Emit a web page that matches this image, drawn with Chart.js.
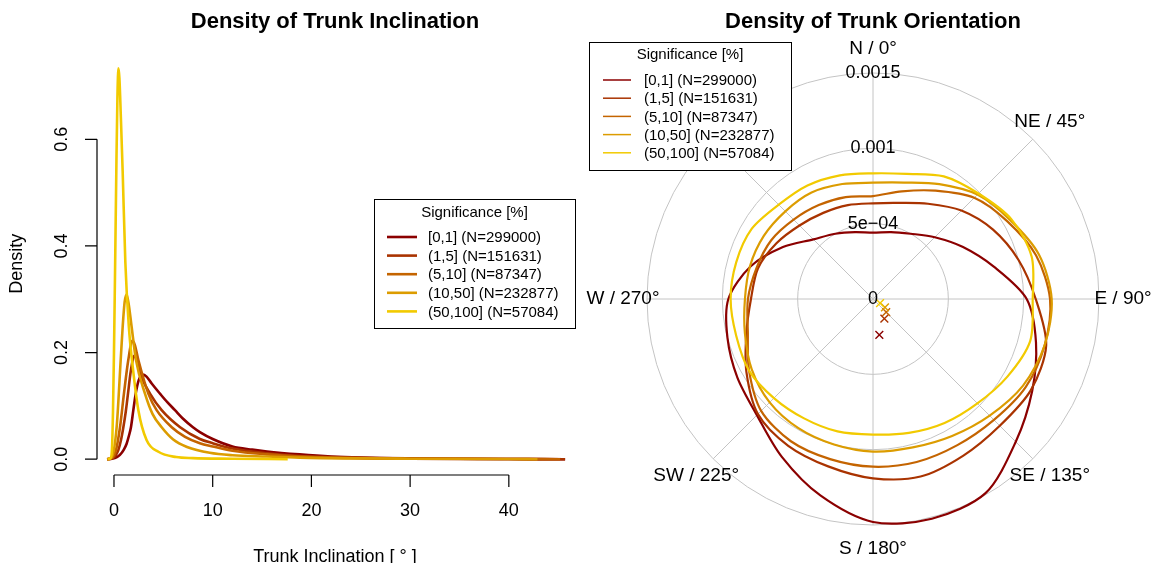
<!DOCTYPE html>
<html>
<head>
<meta charset="utf-8">
<script src="https://cdn.jsdelivr.net/npm/chart.js@4/dist/chart.umd.min.js"></script>
<style>
html,body{margin:0;padding:0;background:#fff;}
#wrap{position:relative;width:1152px;height:563px;overflow:hidden;background:#fff;}
canvas{position:absolute;top:0;}
#c1{left:0;}
#c2{left:576px;}
</style>
</head>
<body>
<div id="wrap">
<canvas id="c1" width="576" height="563"></canvas>
<canvas id="c2" width="576" height="563"></canvas>
</div>
<script>
// ---------------- data ----------------
const seriesLabels = ['[0,1] (N=299000)', '(1,5] (N=151631)', '(5,10] (N=87347)', '(10,50] (N=232877)', '(50,100] (N=57084)'];
const seriesColors = ['#8B0000', '#A93300', '#C46400', '#DC9C00', '#F2CA00'];

// Trunk inclination densities: [inclination (deg), density]
const incl_0_1 = [[-0.7,0],[-0.2,0.001],[0.3,0.004],[0.6,0.008],[1.0,0.018],[1.28,0.029],[1.5,0.043],[1.72,0.06],[1.96,0.092],[2.2,0.123],[2.5,0.148],[2.9,0.159],[3.3,0.155],[3.82,0.142],[4.66,0.123],[5.4,0.107],[6.18,0.092],[7,0.076],[8,0.06],[8.7,0.051],[10,0.038],[12,0.024],[14,0.018],[15.5,0.0145],[18.8,0.009],[22,0.005],[25,0.003],[30,0.0015],[35,0.0008],[40,0.0004],[45.7,0]];
const incl_1_5 = [[-0.7,0],[-0.13,0.002],[0.2,0.008],[0.44,0.017],[0.7,0.035],[0.95,0.06],[1.2,0.09],[1.42,0.123],[1.7,0.165],[2.06,0.194],[2.4,0.182],[2.8,0.154],[3.65,0.123],[4.83,0.092],[6.7,0.06],[8.7,0.038],[10,0.03],[12,0.02],[15.5,0.011],[18.8,0.006],[22,0.004],[25,0.0025],[30,0.0012],[40,0.0004],[45.7,0]];
const incl_5_10 = [[-0.7,0],[-0.23,0.002],[0.2,0.017],[0.61,0.06],[1.01,0.123],[1.45,0.186],[1.86,0.222],[2.1,0.215],[2.47,0.186],[3.48,0.123],[4.32,0.092],[5.85,0.06],[7.2,0.042],[8.7,0.03],[10,0.024],[12,0.016],[15.5,0.009],[18.8,0.005],[22,0.003],[25,0.002],[30,0.001],[40,0.0003],[45.2,0]];
const incl_10_50 = [[-0.7,0],[-0.23,0.004],[0.27,0.06],[0.68,0.186],[0.88,0.248],[1.08,0.295],[1.28,0.309],[1.5,0.29],[1.79,0.248],[2.23,0.186],[3.14,0.123],[3.9,0.085],[4.83,0.06],[6,0.037],[7.4,0.023],[9.7,0.012],[12,0.0075],[15.5,0.005],[18.8,0.003],[25,0.0015],[30,0.001],[40,0.0004],[42.9,0]];
const incl_50_100 = [[-0.6,0],[-0.35,0.002],[-0.2,0.02],[-0.1,0.09],[0,0.2],[0.1,0.34],[0.25,0.56],[0.35,0.68],[0.45,0.733],[0.55,0.715],[0.7,0.64],[0.88,0.54],[1.15,0.37],[1.5,0.25],[1.89,0.175],[2.47,0.092],[3.3,0.036],[4.5,0.014],[6.3,0.004],[8,0.002],[12,0.001],[17.6,0]];
const inclSeries = [incl_0_1, incl_1_5, incl_5_10, incl_10_50, incl_50_100];

const inclXTicks = [0, 10, 20, 30, 40];
const inclYTicks = [0, 0.2, 0.4, 0.6];
const inclYTickLabels = ['0.0', '0.2', '0.4', '0.6'];

// Trunk orientation densities (polar), one value every 15 degrees, clockwise from N
const orientAngles = [0,15,30,45,60,75,90,105,120,135,150,165,180,195,210,225,240,255,270,285,300,315,330,345];
const orient_0_1 = [0.00044,0.00046,0.00050,0.00058,0.00069,0.00083,0.00102,0.00112,0.00122,0.00134,0.00149,0.00151,0.00148,0.00135,0.00121,0.00109,0.00104,0.00100,0.00096,0.00084,0.00069,0.00056,0.00050,0.00046];
const orient_1_5 = [0.000635,0.00066,0.00073,0.00083,0.00092,0.00100,0.00108,0.00119,0.00121,0.00119,0.00120,0.00122,0.00119,0.00115,0.001125,0.00108,0.00097,0.00087,0.00081,0.00079,0.00074,0.00069,0.00066,0.000645];
const orient_5_10 = [0.000683,0.00074,0.00083,0.00095,0.00103,0.00112,0.001175,0.00118,0.00117,0.001135,0.00112,0.00112,0.001113,0.00110,0.00109,0.00105,0.00095,0.00086,0.00083,0.00080,0.00078,0.000745,0.00072,0.00070];
const orient_10_50 = [0.000772,0.00080,0.00088,0.00098,0.00105,0.00114,0.001186,0.00118,0.00115,0.001095,0.00105,0.00102,0.001013,0.00100,0.00099,0.00097,0.00093,0.00088,0.00085,0.000845,0.000837,0.000823,0.000816,0.00079];
const orient_50_100 = [0.000834,0.00086,0.00094,0.00099,0.00106,0.00109,0.00106,0.00108,0.00103,0.00098,0.00095,0.00092,0.00090,0.00091,0.000915,0.00093,0.00095,0.00094,0.000945,0.00094,0.00093,0.000885,0.00087,0.00085];
const orientSeries = [orient_0_1, orient_1_5, orient_5_10, orient_10_50, orient_50_100];

// mean direction markers: angle (deg) and length
const meanAngles = [170, 150, 135, 125, 120];
const meanLengths = [0.000242, 0.000151, 0.000124, 0.000097, 0.000054];

const orientStep = 5; // angular resolution of the radar categories
const orientLabels = Array.from({length: 360 / orientStep}, (_, i) => i * orientStep);
const compassAngles = [0, 45, 90, 135, 180, 225, 270, 315];
const compassLabels = ['N / 0°', 'NE / 45°', 'E / 90°', 'SE / 135°', 'S / 180°', 'SW / 225°', 'W / 270°', 'NW / 315°'];
const rTickValues = [0, 0.0005, 0.001, 0.0015];
const rTickLabels = ['0', '5e\u221204', '0.001', '0.0015'];

// ---------------- helpers ----------------
const FONT = "'Liberation Sans', Arial, Helvetica, sans-serif";
Chart.defaults.font.family = FONT;
Chart.defaults.color = '#000';

function drawLegendBox(ctx, L, chart) {
  ctx.save();
  ctx.fillStyle = '#fff';
  ctx.fillRect(L.x, L.y, L.w, L.h);
  ctx.strokeStyle = '#000';
  ctx.lineWidth = 1;
  ctx.strokeRect(L.x + 0.5, L.y + 0.5, L.w, L.h);
  ctx.fillStyle = '#000';
  ctx.font = '15px ' + FONT;
  ctx.textAlign = 'center';
  ctx.textBaseline = 'middle';
  ctx.fillText('Significance [%]', L.x + L.w / 2, L.titleY);
  ctx.textAlign = 'left';
  for (let i = 0; i < seriesLabels.length; i++) {
    const ds = chart.data.datasets[i];
    const y = L.firstY + i * L.step;
    ctx.strokeStyle = ds.borderColor;
    ctx.lineWidth = L.lw;
    ctx.beginPath();
    ctx.moveTo(L.x1, y);
    ctx.lineTo(L.x2, y);
    ctx.stroke();
    ctx.fillStyle = '#000';
    ctx.fillText(ds.label, L.tx, y + 1);
  }
  ctx.restore();
}

// ---------------- left chart ----------------
const inclAxes = {
  id: 'inclAxes',
  afterDraw(chart) {
    const ctx = chart.ctx;
    const xs = chart.scales.x, ys = chart.scales.y;
    const area = chart.chartArea;
    ctx.save();
    ctx.strokeStyle = '#000';
    ctx.lineWidth = 1.2;
    ctx.fillStyle = '#000';
    ctx.font = '18px ' + FONT;
    // x axis
    const yb = area.bottom;
    ctx.beginPath();
    ctx.moveTo(xs.getPixelForValue(inclXTicks[0]), yb);
    ctx.lineTo(xs.getPixelForValue(inclXTicks[inclXTicks.length - 1]), yb);
    inclXTicks.forEach(v => {
      const px = xs.getPixelForValue(v);
      ctx.moveTo(px, yb);
      ctx.lineTo(px, yb + 12);
    });
    ctx.stroke();
    ctx.textAlign = 'center';
    ctx.textBaseline = 'middle';
    inclXTicks.forEach(v => ctx.fillText(String(v), xs.getPixelForValue(v), yb + 36));
    ctx.fillText('Trunk Inclination [ \u00B0 ]', (area.left + area.right) / 2, yb + 82);
    // y axis
    const xl = area.left;
    ctx.beginPath();
    ctx.moveTo(xl, ys.getPixelForValue(inclYTicks[0]));
    ctx.lineTo(xl, ys.getPixelForValue(inclYTicks[inclYTicks.length - 1]));
    inclYTicks.forEach(v => {
      const py = ys.getPixelForValue(v);
      ctx.moveTo(xl, py);
      ctx.lineTo(xl - 12, py);
    });
    ctx.stroke();
    inclYTicks.forEach((v, i) => {
      ctx.save();
      ctx.translate(xl - 35, ys.getPixelForValue(v));
      ctx.rotate(-Math.PI / 2);
      ctx.fillText(inclYTickLabels[i], 0, 0);
      ctx.restore();
    });
    ctx.save();
    ctx.translate(xl - 80, (area.top + area.bottom) / 2);
    ctx.rotate(-Math.PI / 2);
    ctx.fillText('Density', 0, 0);
    ctx.restore();
    ctx.restore();
    drawLegendBox(ctx, {x: 374, y: 199, w: 201, h: 129, titleY: 213, firstY: 237, step: 18.6,
      x1: 387, x2: 417, tx: 428, lw: 2.6}, chart);
  }
};

new Chart(document.getElementById('c1'), {
  type: 'line',
  data: {
    datasets: inclSeries.map((s, i) => ({
      label: seriesLabels[i],
      data: s.map(p => ({x: p[0], y: p[1]})),
      borderColor: seriesColors[i],
      backgroundColor: seriesColors[i],
      borderWidth: 2.6,
      pointRadius: 0,
      fill: false,
      cubicInterpolationMode: 'monotone',
      order: seriesLabels.length - i
    }))
  },
  options: {
    responsive: false,
    devicePixelRatio: 1,
    animation: false,
    events: [],
    layout: {padding: {left: 97, right: 3, top: 9, bottom: 88}},
    plugins: {
      legend: {display: false},
      tooltip: {enabled: false},
      title: {display: true, text: 'Density of Trunk Inclination', color: '#000',
        font: {size: 22, weight: 'bold'}, padding: {top: 0, bottom: 17.2}}
    },
    scales: {
      x: {type: 'linear', display: false, min: -1.72, max: 46.5},
      y: {type: 'linear', display: false, min: -0.0296, max: 0.7626}
    }
  },
  plugins: [inclAxes]
});

// ---------------- right chart ----------------
function toRadar(values, angles) {
  const arr = orientLabels.map(() => null);
  angles.forEach((a, i) => { arr[Math.round(a / orientStep) % orientLabels.length] = values[i]; });
  return arr;
}

const curveSets = orientSeries.map((s, i) => ({
  label: seriesLabels[i],
  data: toRadar(s, orientAngles),
  borderColor: seriesColors[i],
  backgroundColor: 'rgba(0,0,0,0)',
  borderWidth: 2.2,
  pointRadius: 0,
  fill: false,
  spanGaps: true,
  tension: 0.3,
  order: seriesLabels.length - i
}));
const meanSets = meanAngles.map((a, i) => ({
  label: 'mean ' + seriesLabels[i],
  data: toRadar([meanLengths[i]], [a]),
  borderColor: seriesColors[i],
  pointBorderColor: seriesColors[i],
  backgroundColor: 'rgba(0,0,0,0)',
  pointStyle: 'crossRot',
  pointRadius: 5.5,
  pointBorderWidth: 1.4,
  showLine: false,
  fill: false,
  order: -1 - i
}));

const orientDeco = {
  id: 'orientDeco',
  afterDraw(chart) {
    const ctx = chart.ctx;
    const r = chart.scales.r;
    ctx.save();
    ctx.fillStyle = '#000';
    ctx.font = '19px ' + FONT;
    ctx.textAlign = 'center';
    ctx.textBaseline = 'middle';
    compassAngles.forEach((a, i) => {
      const p = r.getPointPosition(Math.round(a / orientStep), r.drawingArea + 24);
      ctx.fillText(compassLabels[i], p.x, p.y);
    });
    ctx.font = '18px ' + FONT;
    ctx.fillText(rTickLabels[0], r.xCenter, r.yCenter);
    ctx.restore();
    drawLegendBox(ctx, {x: 13, y: 42, w: 202, h: 128, titleY: 55, firstY: 80, step: 18.2,
      x1: 27, x2: 55, tx: 68, lw: 1.5}, chart);
  }
};

new Chart(document.getElementById('c2'), {
  type: 'radar',
  data: {labels: orientLabels, datasets: curveSets.concat(meanSets)},
  options: {
    responsive: false,
    devicePixelRatio: 1,
    animation: false,
    events: [],
    layout: {padding: {left: 60, right: 42, top: 9, bottom: 27}},
    plugins: {
      legend: {display: false},
      tooltip: {enabled: false},
      title: {display: true, text: 'Density of Trunk Orientation', color: '#000',
        font: {size: 22, weight: 'bold'}, padding: {top: 0, bottom: 26.6}}
    },
    scales: {
      r: {
        min: 0,
        max: 0.0015,
        startAngle: 0,
        afterBuildTicks: s => { s.ticks = rTickValues.map(v => ({value: v})); },
        ticks: {
          display: true,
          showLabelBackdrop: false,
          color: '#000',
          font: {size: 18},
          callback: (v) => {
            const i = rTickValues.findIndex(t => Math.abs(t - v) < 1e-9);
            return i >= 0 ? rTickLabels[i] : '';
          }
        },
        grid: {circular: true, color: '#C4C4C4', lineWidth: 1},
        angleLines: {
          display: true,
          color: '#C4C4C4',
          lineWidth: (c) => (compassAngles.indexOf(c.index * orientStep) >= 0 ? 1 : 0)
        },
        pointLabels: {display: false}
      }
    }
  },
  plugins: [orientDeco]
});
</script>
</body>
</html>
